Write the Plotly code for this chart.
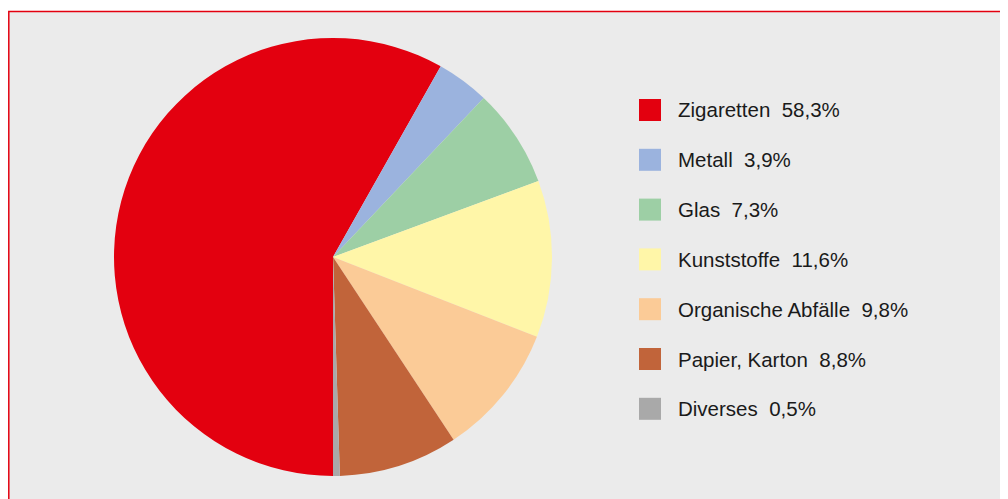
import plotly.graph_objects as go

categories = ["Zigaretten", "Metall", "Glas", "Kunststoffe", "Organische Abfälle", "Papier, Karton", "Diverses"]
values = [58.3, 3.9, 7.3, 11.6, 9.8, 8.8, 0.5]
value_labels = ["58,3%", "3,9%", "7,3%", "11,6%", "9,8%", "8,8%", "0,5%"]
colors = ["#e3000f", "#9bb3de", "#9dcfa5", "#fff6a8", "#fbcb97", "#c1643a", "#a9a9a9"]

# page body has an 8px margin; figure placed at (8, 8) in the window
OFF = 8
W, H = 1000, 491
cx, cy, r = 333 - OFF, 257 - OFF, 219

fig = go.Figure()
fig.add_trace(go.Pie(
    labels=categories, values=values, sort=False, direction="clockwise",
    rotation=180, marker=dict(colors=colors, line=dict(width=0)),
    textinfo="none", hoverinfo="label+percent", showlegend=False,
    domain=dict(x=[(cx - r) / W, (cx + r) / W], y=[(H - cy - r) / H, (H - cy + r) / H]),
))

shapes = [dict(type="rect", xref="paper", yref="paper", x0=0.8 / W, x1=1.02,
               y0=-0.02, y1=1 - 3.5 / H, fillcolor="#ebebeb",
               line=dict(color="#e3000f", width=1.5), layer="below")]
annotations = []
y_start, step = 110 - OFF, 49.8
for i, (cat, lab, col) in enumerate(zip(categories, value_labels, colors)):
    yc = y_start + i * step
    shapes.append(dict(type="rect", xref="paper", yref="paper",
                       x0=(639 - OFF) / W, x1=(661 - OFF) / W,
                       y0=1 - (yc + 11) / H, y1=1 - (yc - 11) / H,
                       fillcolor=col, line=dict(width=0)))
    annotations.append(dict(xref="paper", yref="paper", x=(676 - OFF) / W, y=1 - yc / H,
                            xanchor="left", yanchor="middle", showarrow=False,
                            text=cat + "\u00a0\u00a0" + lab,
                            font=dict(family="Liberation Sans, Arial", size=20.5, color="#1a1a1a")))

fig.update_layout(width=W, height=H, margin=dict(l=0, r=0, t=0, b=0),
                  paper_bgcolor="white", plot_bgcolor="rgba(0,0,0,0)",
                  shapes=shapes, annotations=annotations)
fig.write_html("out.html")
